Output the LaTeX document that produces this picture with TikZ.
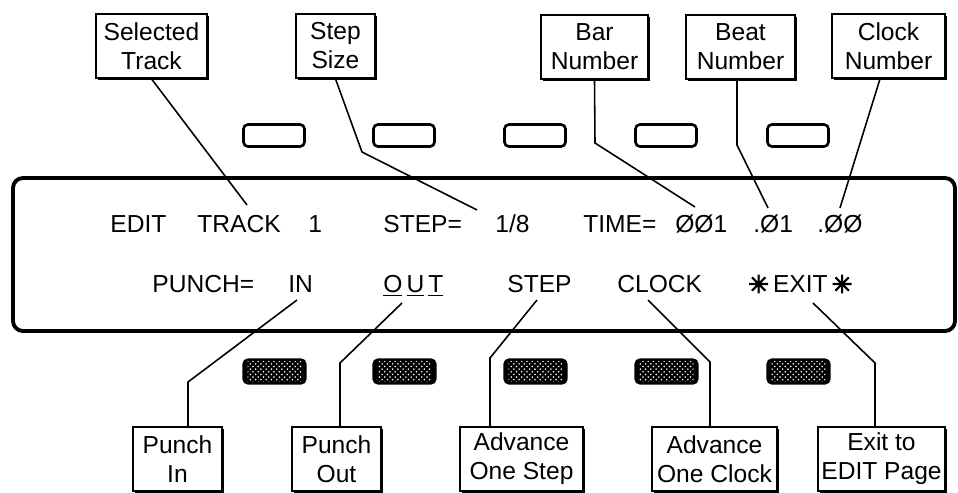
\documentclass[tikz,border=0pt]{standalone}
\usepackage{fontspec}
\setmainfont{Liberation Sans}
\newfontfamily\symfont[FakeBold=4]{DejaVu Sans}
\usetikzlibrary{shadows,patterns}

\begin{document}
\begin{tikzpicture}[
  x=0.02cm, y=-0.02cm,
  lbl/.style={draw=black, fill=white, line width=1pt, inner sep=0pt, align=center,
    minimum height=1.28cm, font=\fontsize{14}{16.5}\selectfont,
    drop shadow={shadow xshift=1.2pt, shadow yshift=-1.2pt, fill=black, opacity=1}},
  keyup/.style={draw=black, line width=1.5pt, rounded corners=2.5pt,
    minimum width=1.22cm, minimum height=0.44cm, inner sep=0pt},
  keydn/.style={draw=black, fill=black, line width=1.2pt, rounded corners=2.5pt,
    minimum width=1.24cm, minimum height=0.48cm, inner sep=0pt},
  disp/.style={anchor=base west, inner sep=0pt, font=\fontsize{14}{16}\selectfont},
  wire/.style={line width=0.9pt, draw=black}
]
  \useasboundingbox (0,0) rectangle (958,493);

  % Pantalla
  \draw[line width=2.2pt, rounded corners=0.2cm] (13,178) rectangle (955,331);

  % Teclas superiores y inferiores
  \foreach \x [count=\i] in {274,404,535,666,798} {
    \node[keyup] (up\i) at (\x,135.5) {};
    \node[keydn] (dn\i) at (\x+0.5,371.5) {};
    \fill[pattern=crosshatch dots, pattern color=white]
      ([shift={(3pt,2pt)}]dn\i.south west) rectangle ([shift={(-3pt,-2pt)}]dn\i.north east);
  }

  % Texto de la pantalla, primera linea
  \node[disp] (tEdit) at (110,233) {EDIT};
  \node[disp] (tTrack) at (197,233) {TRACK};
  \node[disp] (tOne) at (308,233) {1};
  \node[disp] (tStep) at (383,233) {STEP=};
  \node[disp] (tSize) at (495,233) {1/8};
  \node[disp] (tTime) at (583,233) {TIME=};
  \node[disp] (tBar) at (675,233) {ØØ1};
  \node[disp] (tBeat) at (753,233) {.Ø1};
  \node[disp] (tClock) at (817,233) {.ØØ};

  % Texto de la pantalla, segunda linea
  \node[disp] (tPunch) at (152,293) {PUNCH=};
  \node[disp] (tIn) at (288,293) {IN};
  \node[disp] (tOut) at (383,293) {\underline{O}\,\underline{U}\,\underline{T}};
  \node[disp] (tAdv) at (507,293) {STEP};
  \node[disp] (tClk) at (617,293) {CLOCK};
  \node[disp] (tExit) at (748,293) {{\symfont ✳}\,EXIT\,{\symfont ✳}};

  % Etiquetas superiores
  \node[lbl, minimum width=2.22cm] (selT) at (151.5,46) {Selected\\Track};
  \node[lbl, minimum width=1.58cm] (stepS) at (335.5,46) {Step\\Size};
  \node[lbl, minimum width=2.14cm] (barN) at (594.5,47) {Bar\\Number};
  \node[lbl, minimum width=2.18cm] (beatN) at (740.5,47) {Beat\\Number};
  \node[lbl, minimum width=2.26cm] (clockN) at (888.5,46) {Clock\\Number};

  % Etiquetas inferiores
  \node[lbl, minimum width=1.78cm] (punchIn) at (177.5,459) {Punch\\In};
  \node[lbl, minimum width=1.78cm] (punchOut) at (336.5,459) {Punch\\Out};
  \node[lbl, minimum width=2.46cm] (advStep) at (521.5,459) {Advance\\One Step};
  \node[lbl, minimum width=2.50cm] (advClock) at (714.5,459) {Advance\\One Clock};
  \node[lbl, minimum width=2.54cm] (exitE) at (881.5,459) {Exit to\\EDIT Page};

  % Puntos de quiebre y extremos libres
  \coordinate (eTrack) at (247,205);
  \coordinate (kStep) at (362,152);
  \coordinate (eStep) at (477,210);
  \coordinate (kBar) at (595,143);
  \coordinate (eBar) at (695,207);
  \coordinate (kBeat) at (737,145);
  \coordinate (eBeat) at (768,208);
  \coordinate (eClock) at (840,208);
  \coordinate (kIn) at (188,382);
  \coordinate (eIn) at (297,300);
  \coordinate (kOut) at (340,363);
  \coordinate (eOut) at (402,303);
  \coordinate (kAdv) at (490,358);
  \coordinate (eAdv) at (537,300);
  \coordinate (kClk) at (710,362);
  \coordinate (eClk) at (648,300);
  \coordinate (kExit) at (875,363);
  \coordinate (eExit) at (813,303);

  % Lineas de referencia
  \draw[wire] (selT.south) -- (eTrack);
  \draw[wire] (stepS.south) -- (kStep) -- (eStep);
  \draw[wire] (barN.south) -- (kBar) -- (eBar);
  \draw[wire] (kBeat |- beatN.south) -- (kBeat) -- (eBeat);
  \draw[wire] ([xshift=-1.7mm]clockN.south) -- (eClock);
  \draw[wire] (kIn |- punchIn.north) -- (kIn) -- (eIn);
  \draw[wire] (kOut |- punchOut.north) -- (kOut) -- (eOut);
  \draw[wire] (kAdv |- advStep.north) -- (kAdv) -- (eAdv);
  \draw[wire] (kClk |- advClock.north) -- (kClk) -- (eClk);
  \draw[wire] (kExit |- exitE.north) -- (kExit) -- (eExit);
\end{tikzpicture}
\end{document}
